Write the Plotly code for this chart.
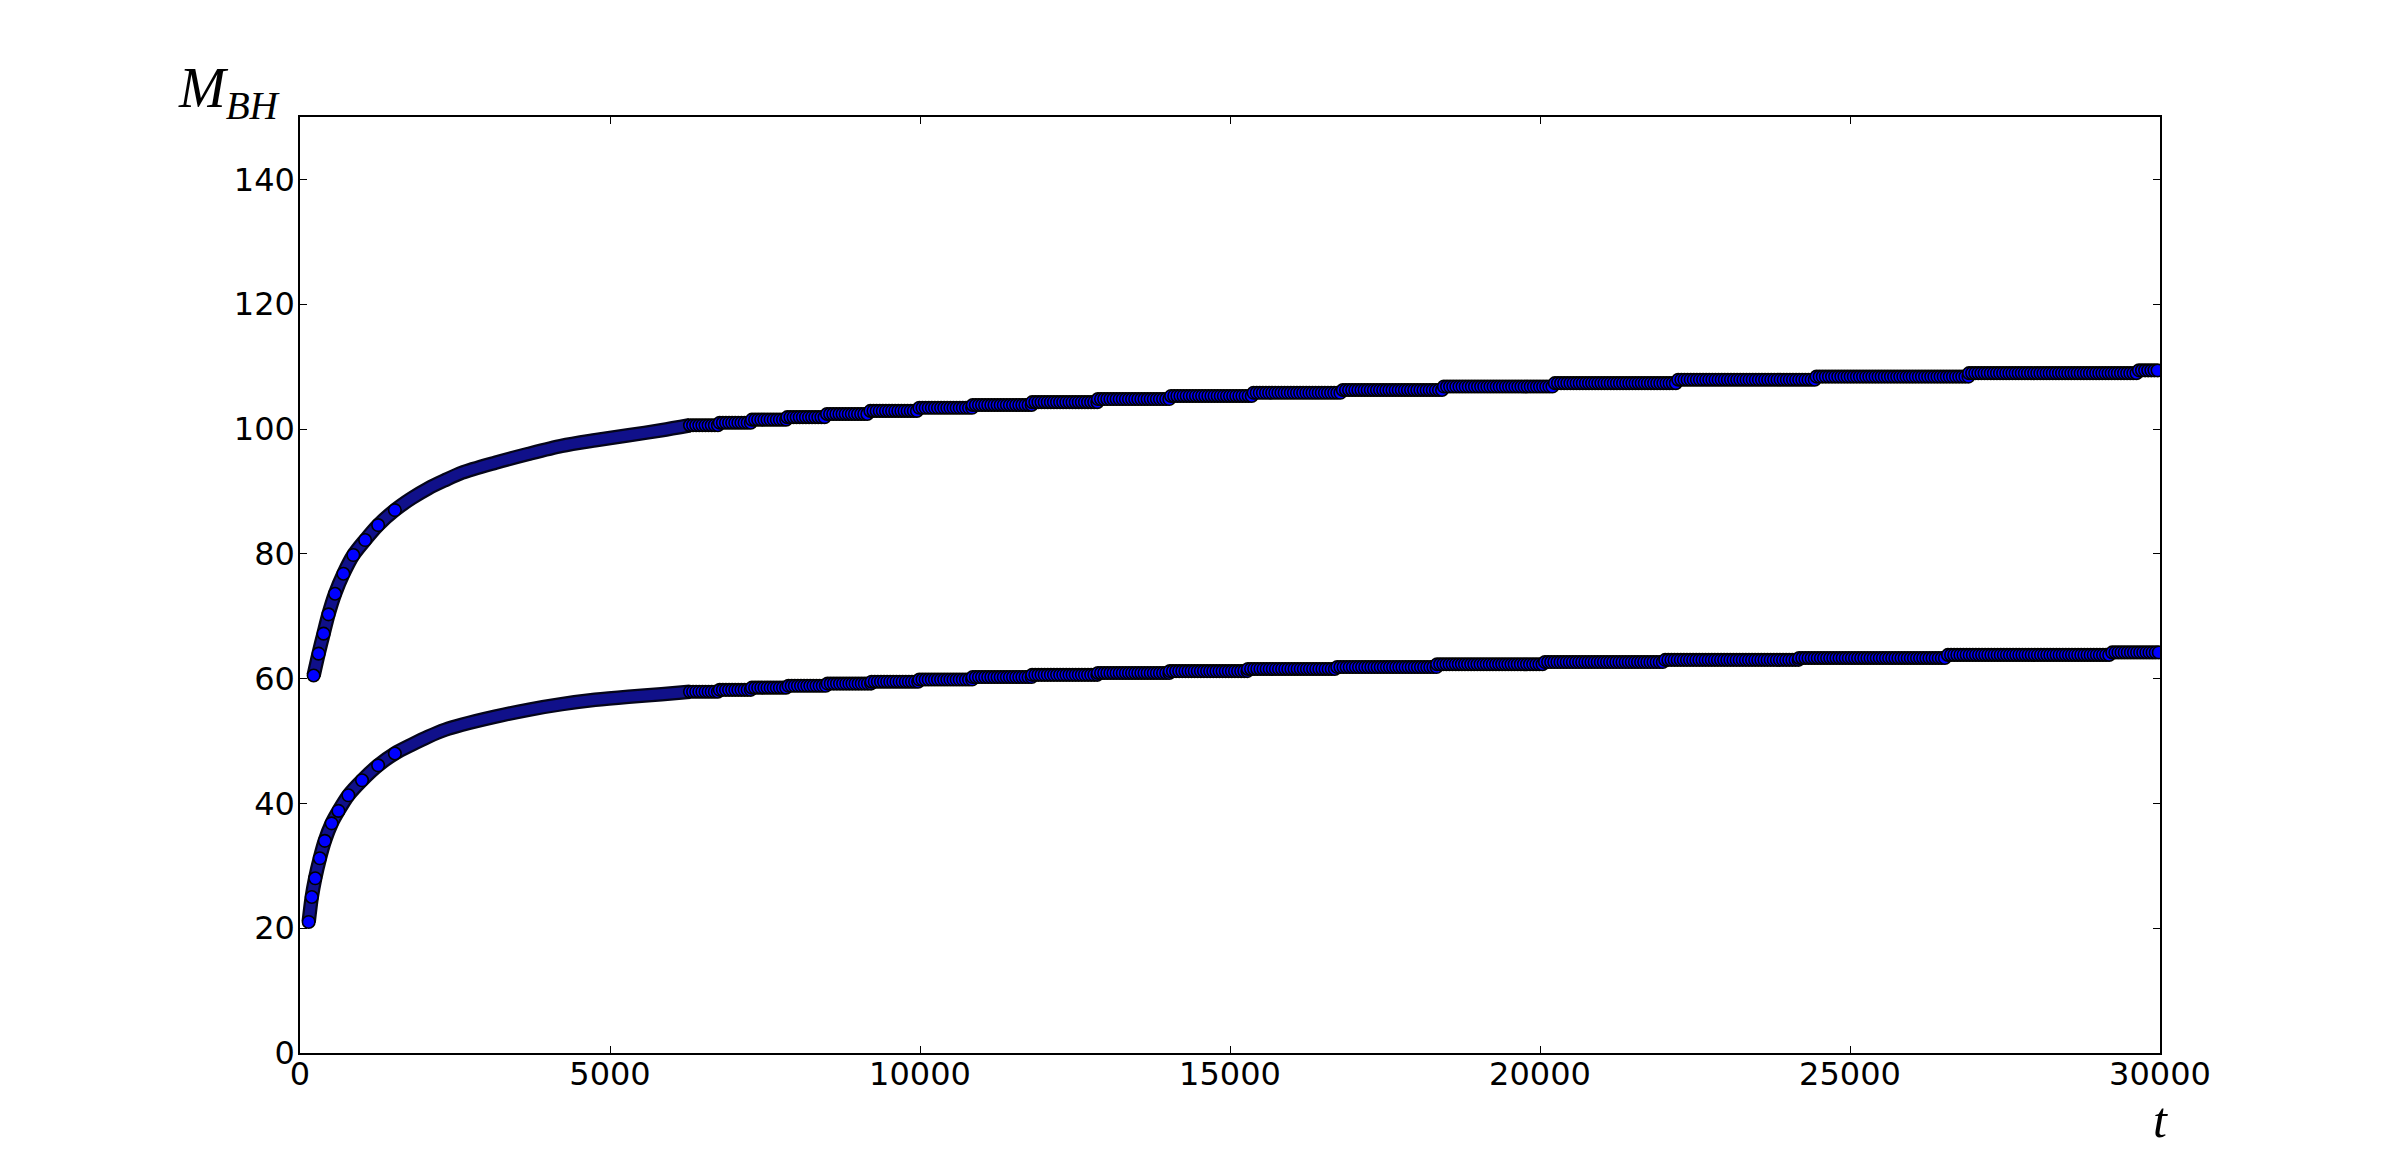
import numpy as np
import plotly.graph_objects as go

# ---- data ----
# early (continuous) part of each curve: time, mass
EARLY_T_UPPER = [220, 300, 380, 460, 565, 700, 860, 1050, 1260, 1530, 1800, 2070, 2340, 2610, 3150, 3680, 4220, 4760, 5300, 5830, 6290]
EARLY_M_UPPER = [60.5, 64.0, 67.2, 70.3, 73.6, 76.8, 79.8, 82.2, 84.6, 87.0, 88.9, 90.5, 91.8, 93.0, 94.6, 96.0, 97.3, 98.2, 99.0, 99.8, 100.6]
EARLY_T_LOWER = [140, 190, 245, 320, 400, 510, 620, 780, 1000, 1260, 1530, 1800, 2070, 2340, 2610, 3150, 3680, 4220, 4760, 5300, 5830, 6290]
EARLY_M_LOWER = [21.0, 25.0, 28.0, 31.2, 34.0, 36.8, 38.8, 41.3, 43.7, 46.1, 48.0, 49.4, 50.7, 51.8, 52.6, 53.9, 55.0, 55.9, 56.6, 57.1, 57.5, 57.9]

# later part: plateaus (start time, mass)
STEP_T_UPPER = [6290, 6770, 7290, 7860, 8500, 9200, 9990, 10850, 11810, 12870, 14050, 15380, 16820, 18450, 20240, 22230, 24460, 26920, 29660]
STEP_M_UPPER = [100.6, 101.0, 101.5, 101.9, 102.4, 102.9, 103.4, 103.85, 104.3, 104.8, 105.3, 105.8, 106.25, 106.8, 107.35, 107.9, 108.4, 108.95, 109.4]
STEP_T_LOWER = [6290, 6770, 7290, 7880, 8510, 9220, 9990, 10850, 11810, 12870, 14030, 15290, 16730, 18340, 20080, 22020, 24180, 26580, 29230]
STEP_M_LOWER = [57.9, 58.2, 58.55, 58.85, 59.2, 59.5, 59.85, 60.25, 60.6, 60.9, 61.2, 61.55, 61.85, 62.3, 62.65, 63.0, 63.3, 63.8, 64.2]

T_END = 30000
SAMPLE_DT = 50          # output spacing of the stored samples on plateaus
RISE_END = 1600         # steep part drawn with visible markers

X_TICKS = [0, 5000, 10000, 15000, 20000, 25000, 30000]
Y_TICKS = [0, 20, 40, 60, 80, 100, 120, 140]

BLUE = "#0000ff"
MS = 12.5
MLW = 1.6


def plateau_samples(step_t, step_m):
    ts, ms = [], []
    for i, (t0, m) in enumerate(zip(step_t, step_m)):
        t1 = step_t[i + 1] if i + 1 < len(step_t) else T_END + 1
        for t in np.arange(t0, t1, SAMPLE_DT):
            ts.append(t)
            ms.append(m)
    return ts, ms


fig = go.Figure()

for et, em, st, sm in [(EARLY_T_LOWER, EARLY_M_LOWER, STEP_T_LOWER, STEP_M_LOWER),
                       (EARLY_T_UPPER, EARLY_M_UPPER, STEP_T_UPPER, STEP_M_UPPER)]:
    # band of the early part
    fig.add_trace(go.Scatter(x=et, y=em, mode="lines",
                             line=dict(color="#05051a", width=14.5, shape="spline", smoothing=0.8),
                             hoverinfo="skip"))
    fig.add_trace(go.Scatter(x=et, y=em, mode="lines",
                             line=dict(color="#10108a", width=10, shape="spline", smoothing=0.8),
                             hoverinfo="skip"))
    rt = [t for t in et if t <= RISE_END]
    rm = [m for t, m in zip(et, em) if t <= RISE_END]
    fig.add_trace(go.Scatter(x=rt, y=rm, mode="markers",
                             marker=dict(color=BLUE, size=MS, line=dict(color="black", width=MLW))))
    pt, pm = plateau_samples(st, sm)
    fig.add_trace(go.Scatter(x=pt, y=pm, mode="markers",
                             marker=dict(color=BLUE, size=MS, line=dict(color="black", width=MLW))))

axis_common = dict(showline=True, linecolor="black", linewidth=1.5, mirror="ticks",
                   ticks="inside", ticklen=7, tickwidth=1.2, tickcolor="black",
                   showgrid=False, zeroline=False,
                   tickfont=dict(family="DejaVu Sans", size=32, color="black"))

fig.update_xaxes(range=[0, 30000], tickvals=X_TICKS, ticktext=[str(v) for v in X_TICKS],
                 ticklabelstandoff=-8, **axis_common)
fig.update_yaxes(range=[0, 150], tickvals=Y_TICKS, ticktext=[str(v) for v in Y_TICKS],
                 ticklabelstandoff=-3, **axis_common)

fig.add_annotation(text="<i>M</i><sub><i>BH</i></sub>", xref="paper", yref="paper",
                   x=(176 - 300) / 1860, y=(1053 - 129) / 936, xanchor="left", yanchor="bottom",
                   showarrow=False, font=dict(family="Liberation Serif", size=56, color="black"))
fig.add_annotation(text="<i>t</i>", xref="paper", yref="paper",
                   x=1.0, y=(1053 - 1120) / 936, xanchor="center", yanchor="middle",
                   showarrow=False, font=dict(family="Liberation Serif", size=50, color="black"))

fig.update_layout(width=2400, height=1170, showlegend=False,
                  paper_bgcolor="white", plot_bgcolor="white",
                  margin=dict(l=292, r=248, t=109, b=125))

fig.write_html("out.html")
